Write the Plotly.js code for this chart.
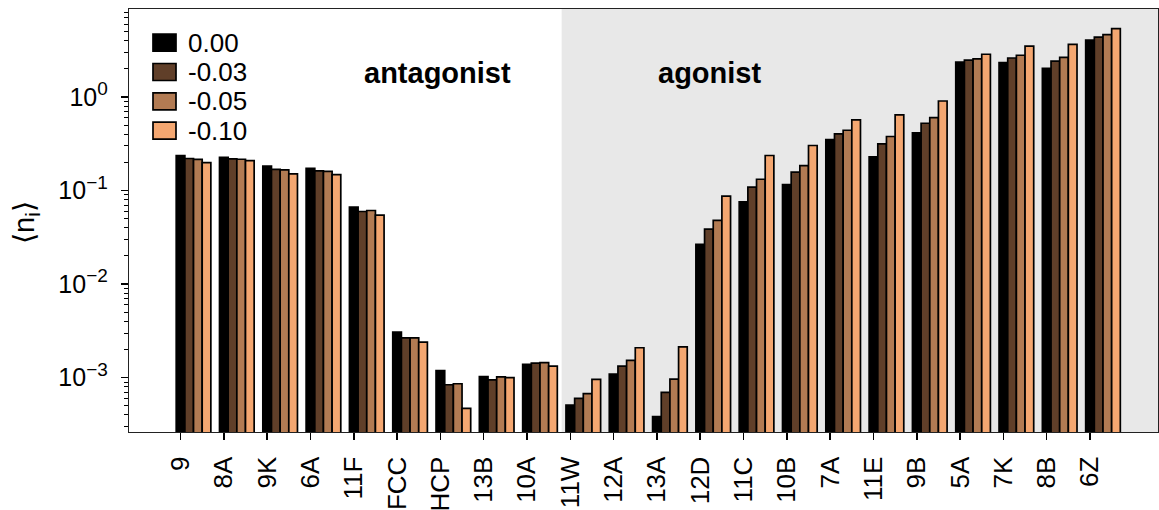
<!DOCTYPE html>
<html>
<head>
<meta charset="utf-8">
<script src="https://cdn.plot.ly/plotly-3.0.1.min.js"></script>
<style>html,body{margin:0;padding:0;background:#fff;}#chart{width:1159px;height:510px;}</style>
</head>
<body>
<div id="chart"></div>
<script>
// ---- data ----
var categories = ['9','8A','9K','6A','11F','FCC','HCP','13B','10A','11W','12A','13A','12D','11C','10B','7A','11E','9B','5A','7K','8B','6Z'];
var seriesNames = ['0.00','-0.03','-0.05','-0.10'];
var s000 = [0.237,0.227,0.183,0.173,0.0664,0.00308,0.00119,0.00103,0.00139,0.000511,0.00109,0.000384,0.0266,0.0757,0.116,0.351,0.229,0.413,2.36,2.33,2.02,4.06];
var s003 = [0.220,0.218,0.168,0.162,0.0597,0.00267,0.000841,0.00095,0.00143,0.000603,0.00133,0.000698,0.0387,0.1086,0.157,0.403,0.315,0.524,2.47,2.61,2.41,4.37];
var s005 = [0.215,0.216,0.166,0.160,0.0612,0.00267,0.000862,0.00102,0.00145,0.000675,0.00153,0.000968,0.0479,0.132,0.185,0.441,0.378,0.603,2.55,2.79,2.65,4.63];
var s010 = [0.199,0.209,0.151,0.148,0.0546,0.00240,0.000471,0.00100,0.00133,0.000962,0.00209,0.00214,0.0871,0.237,0.303,0.568,0.643,0.906,2.86,3.50,3.65,5.37];
var yTickVals = [0.001, 0.01, 0.1, 1];
var yTickExp = ['\u22123','\u22122','\u22121','0'];
var regionLabels = ['antagonist','agonist'];

// ---- styling ----
var colors = ['#000000','#603f29','#b27b53','#f4a771'];
var offsets = [-0.1, 0.1, 0.3, 0.5];
var FONT = 'Liberation Sans, Arial, Helvetica, sans-serif';
var W = 1159, H = 510, ML = 129, MR = 1, MT = 9, MB = 78;
var PW = W - ML - MR, PH = H - MT - MB;
function px2paperX(px){ return (px - ML)/PW; }
function px2paperY(py){ return (H - MB - py)/PH; }

var yTickText = yTickExp.map(function(e){ return '10<sup><span style="font-size:19px">' + e + '</span></sup>'; });

var allSeries = [s000, s003, s005, s010];
var traces = allSeries.map(function(vals, k){
  return {
    type: 'bar', x: categories, y: vals, name: seriesNames[k],
    offset: offsets[k], width: 0.2,
    marker: {color: colors[k], line: {color: '#000', width: 1.7}},
    showlegend: false, hoverinfo: 'x+y'
  };
});

var xr = [-1.19, 22.57];
var shapes = [{
  type: 'rect', xref: 'x', yref: 'paper', x0: 8.8, x1: xr[1], y0: 0, y1: 1,
  fillcolor: '#e8e8e8', line: {width: 0}, layer: 'below'
}];
var annotations = [
  {xref:'x', yref:'paper', x: 5.94, y: px2paperY(73), text: '<b>'+regionLabels[0]+'</b>', showarrow:false,
   font:{family:FONT, size:29, color:'#000'}, xanchor:'center', yanchor:'middle'},
  {xref:'x', yref:'paper', x: 12.22, y: px2paperY(73), text: '<b>'+regionLabels[1]+'</b>', showarrow:false,
   font:{family:FONT, size:29, color:'#000'}, xanchor:'center', yanchor:'middle'},
  {xref:'paper', yref:'paper', x: px2paperX(26), y: px2paperY(223), text: '\u27E8n<sub>i</sub>\u27E9', textangle: -90,
   showarrow:false, font:{family:FONT, size:29, color:'#000'}, xanchor:'center', yanchor:'middle'}
];
// custom legend
var rowY = [42.7, 72, 101.3, 130.7];
seriesNames.forEach(function(nm, k){
  shapes.push({type:'rect', xref:'paper', yref:'paper',
    x0: px2paperX(153), x1: px2paperX(176), y0: px2paperY(rowY[k]+8.5), y1: px2paperY(rowY[k]-8.5),
    fillcolor: colors[k], line:{color:'#000', width:1.7}});
  annotations.push({xref:'paper', yref:'paper', x: px2paperX(186), y: px2paperY(rowY[k]), text: nm,
    showarrow:false, xanchor:'left', yanchor:'middle', font:{family:FONT, size:26, color:'#000'}});
});

var layout = {
  width: W, height: H, margin: {l: ML, r: MR, t: MT, b: MB, pad: 0},
  paper_bgcolor: '#fff', plot_bgcolor: 'rgba(0,0,0,0)',
  font: {family: FONT, color: '#000'},
  barmode: 'overlay', showlegend: false,
  xaxis: {
    type: 'category', range: xr, showgrid: false, zeroline: false,
    showline: true, mirror: true, linecolor: '#222', linewidth: 1.2,
    ticks: 'outside', ticklen: 7, tickwidth: 1.5, tickcolor: '#000',
    tickangle: -90, tickfont: {family: FONT, size: 26, color: '#000'}, ticklabelstandoff: 6
  },
  yaxis: {
    type: 'log', range: [-3.58, 0.94], showgrid: false, zeroline: false,
    showline: true, mirror: true, linecolor: '#222', linewidth: 1.2,
    tickmode: 'array', tickvals: yTickVals, ticktext: yTickText,
    ticks: 'outside', ticklen: 7, tickwidth: 1.5, tickcolor: '#000',
    tickfont: {family: FONT, size: 25, color: '#000'}, ticklabelstandoff: 8,
    minor: {ticks: 'outside', ticklen: 4, tickwidth: 1, tickcolor: '#000', dtick: 'D1', showgrid: false}
  },
  shapes: shapes, annotations: annotations
};
Plotly.newPlot('chart', traces, layout, {displayModeBar: false, staticPlot: true});
</script>
</body>
</html>
